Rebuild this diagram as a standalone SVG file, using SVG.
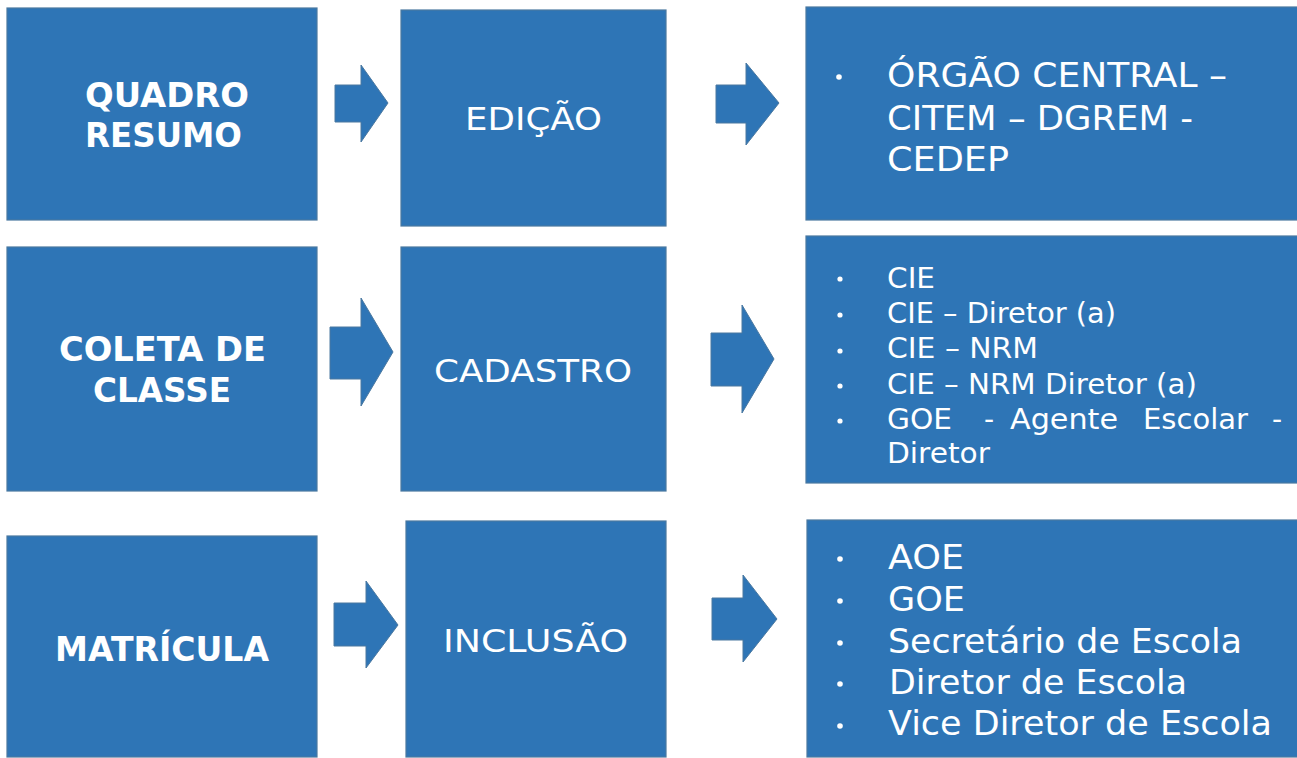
<svg xmlns="http://www.w3.org/2000/svg" width="1297" height="758" viewBox="0 0 1297 758">
<style>
.box{fill:#2E75B6;stroke:#4A78A0;stroke-width:1.2}
.arr{fill:#2E75B6;stroke:#4A78A0;stroke-width:1}
.t{fill:#FFFFFF;font-family:"DejaVu Sans","Liberation Sans",sans-serif}
.b{font-weight:bold;font-size:33px}
.m{font-size:32px}
.r3{font-size:33px}
.r6{font-size:28px}
.r9{font-size:33px}
.dot{fill:#FFFFFF}
</style>
<rect x="0" y="0" width="1297" height="758" fill="#FFFFFF"/>
<g id="connectors">
<polygon class="arr" points="335,85 361,85 361,65 388,103 361,142 361,122 335,122"/>
<polygon class="arr" points="716,85 746,85 746,63 779,103 746,145 746,123 716,123"/>
<polygon class="arr" points="330,327 361,327 361,298 393,352 361,406 361,379 330,379"/>
<polygon class="arr" points="711,333 742,333 742,305 774,359 742,413 742,386 711,386"/>
<polygon class="arr" points="334,603 366,603 366,581 398,625 366,668 366,646 334,646"/>
<polygon class="arr" points="712,598 743,598 743,575 777,619 743,662 743,640 712,640"/>
</g>
<g id="quadro-resumo">
<rect class="box" x="7" y="8" width="310" height="212"/>
<text class="t b" x="85" y="107" textLength="164" lengthAdjust="spacingAndGlyphs">QUADRO</text>
<text class="t b" x="85" y="147" textLength="157" lengthAdjust="spacingAndGlyphs">RESUMO</text>
</g>
<g id="edicao">
<rect class="box" x="401" y="10" width="265" height="216"/>
<text class="t m" x="465" y="130" textLength="137" lengthAdjust="spacingAndGlyphs">EDIÇÃO</text>
</g>
<g id="orgao-central">
<rect class="box" x="806" y="7" width="495" height="213"/>
<circle class="dot" cx="839" cy="77" r="2.8"/>
<text class="t r3" x="887" y="87" textLength="340" lengthAdjust="spacingAndGlyphs">ÓRGÃO CENTRAL –</text>
<text class="t r3" x="887" y="130" textLength="306" lengthAdjust="spacingAndGlyphs">CITEM – DGREM -</text>
<text class="t r3" x="887" y="171" textLength="122" lengthAdjust="spacingAndGlyphs">CEDEP</text>
</g>
<g id="coleta-de-classe">
<rect class="box" x="7" y="247" width="310" height="244"/>
<text class="t b" x="59" y="361" textLength="207" lengthAdjust="spacingAndGlyphs">COLETA DE</text>
<text class="t b" x="93" y="402" textLength="138" lengthAdjust="spacingAndGlyphs">CLASSE</text>
</g>
<g id="cadastro">
<rect class="box" x="401" y="247" width="265" height="244"/>
<text class="t m" x="434" y="382" textLength="198" lengthAdjust="spacingAndGlyphs">CADASTRO</text>
</g>
<g id="cie-list">
<rect class="box" x="806" y="236" width="495" height="247"/>
<circle class="dot" cx="840" cy="279" r="2.6"/>
<circle class="dot" cx="840" cy="315" r="2.6"/>
<circle class="dot" cx="840" cy="351" r="2.6"/>
<circle class="dot" cx="840" cy="386" r="2.6"/>
<circle class="dot" cx="840" cy="421" r="2.6"/>
<text class="t r6" x="887" y="288" textLength="48" lengthAdjust="spacingAndGlyphs">CIE</text>
<text class="t r6" x="887" y="323" textLength="229" lengthAdjust="spacingAndGlyphs">CIE – Diretor (a)</text>
<text class="t r6" x="887" y="358" textLength="151" lengthAdjust="spacingAndGlyphs">CIE – NRM</text>
<text class="t r6" x="887" y="394" textLength="310" lengthAdjust="spacingAndGlyphs">CIE – NRM Diretor (a)</text>
<text class="t r6" x="887" y="429" textLength="65" lengthAdjust="spacingAndGlyphs">GOE</text>
<text class="t r6" x="984" y="429">-</text>
<text class="t r6" x="1010" y="429" textLength="108" lengthAdjust="spacingAndGlyphs">Agente</text>
<text class="t r6" x="1143" y="429" textLength="105" lengthAdjust="spacingAndGlyphs">Escolar</text>
<text class="t r6" x="1272" y="429">-</text>
<text class="t r6" x="887" y="463" textLength="103" lengthAdjust="spacingAndGlyphs">Diretor</text>
</g>
<g id="matricula">
<rect class="box" x="7" y="536" width="310" height="221"/>
<text class="t b" x="55" y="661" textLength="214" lengthAdjust="spacingAndGlyphs">MATRÍCULA</text>
</g>
<g id="inclusao">
<rect class="box" x="406" y="521" width="260" height="236"/>
<text class="t m" x="443" y="652" textLength="185" lengthAdjust="spacingAndGlyphs">INCLUSÃO</text>
</g>
<g id="cargos-list">
<rect class="box" x="807" y="520" width="494" height="237"/>
<circle class="dot" cx="840" cy="559" r="2.8"/>
<circle class="dot" cx="840" cy="601" r="2.8"/>
<circle class="dot" cx="840" cy="643" r="2.8"/>
<circle class="dot" cx="840" cy="684" r="2.8"/>
<circle class="dot" cx="840" cy="726" r="2.8"/>
<text class="t r9" x="888" y="569" textLength="76" lengthAdjust="spacingAndGlyphs">AOE</text>
<text class="t r9" x="888" y="611" textLength="77" lengthAdjust="spacingAndGlyphs">GOE</text>
<text class="t r9" x="888" y="653" textLength="354" lengthAdjust="spacingAndGlyphs">Secretário de Escola</text>
<text class="t r9" x="889" y="694" textLength="298" lengthAdjust="spacingAndGlyphs">Diretor de Escola</text>
<text class="t r9" x="888" y="735" textLength="384" lengthAdjust="spacingAndGlyphs">Vice Diretor de Escola</text>
</g>
</svg>
